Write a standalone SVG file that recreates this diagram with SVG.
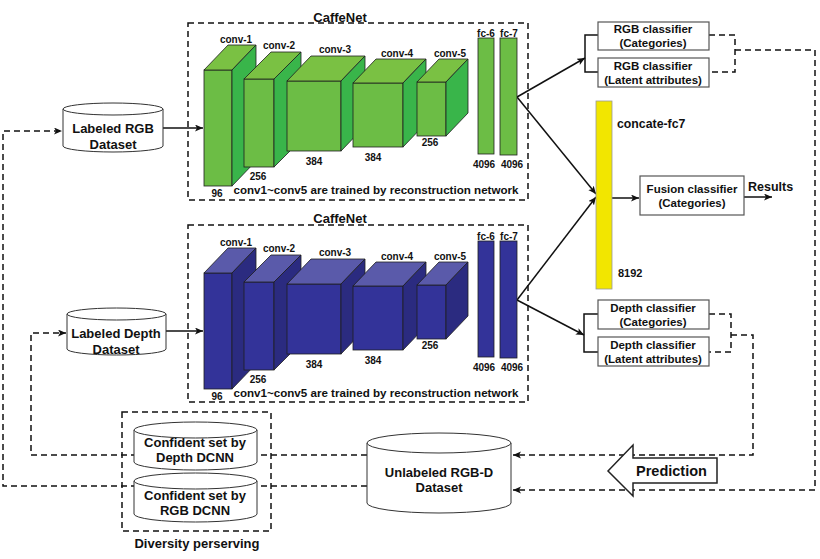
<svg xmlns="http://www.w3.org/2000/svg" width="820" height="559" viewBox="0 0 820 559">
<style>
text{font-family:"Liberation Sans",Arial,sans-serif;font-weight:bold;fill:#111;}
.c{text-anchor:middle;}
.t13{font-size:13px;}
.t10{font-size:10px;}
.t11{font-size:11.5px;}
.dash{fill:none;stroke:#111;stroke-width:1.5;stroke-dasharray:6 4;}
.solid{fill:none;stroke:#111;stroke-width:1.5;}
.gf{fill:#6CBD45;stroke:#1e1e1e;stroke-width:0.8;}
.gt{fill:#7AC143;stroke:#1e1e1e;stroke-width:0.8;}
.gs{fill:#39B54A;stroke:#1e1e1e;stroke-width:0.8;}
.bf{fill:#333399;stroke:#1e1e1e;stroke-width:0.8;}
.bt{fill:#5A5AAA;stroke:#1e1e1e;stroke-width:0.8;}
.bs{fill:#2B2B80;stroke:#1e1e1e;stroke-width:0.8;}
.cyl{fill:#fff;stroke:#333;stroke-width:1;}
.box{fill:#fff;stroke:#555;stroke-width:1.2;}
</style>
<defs>
<marker id="ah" markerWidth="9" markerHeight="8" refX="8" refY="3.5" orient="auto" markerUnits="userSpaceOnUse">
<path d="M0,0 L8,3.5 L0,7 L2,3.5 z" fill="#111"/>
</marker>
</defs>

<!-- connectors -->
<g id="connectors">
<line class="solid" x1="163" y1="128" x2="203" y2="128" marker-end="url(#ah)"/>
<line class="solid" x1="166" y1="331" x2="203" y2="331" marker-end="url(#ah)"/>
<line class="solid" x1="517" y1="97" x2="585" y2="58" marker-end="url(#ah)"/>
<line class="solid" x1="517" y1="97" x2="596" y2="194" marker-end="url(#ah)"/>
<line class="solid" x1="517" y1="300" x2="596" y2="197" marker-end="url(#ah)"/>
<line class="solid" x1="517" y1="300" x2="584" y2="335" marker-end="url(#ah)"/>
<path class="solid" d="M598,35 H585 V72 H598"/>
<path class="solid" d="M598,314 H584 V352 H598"/>
<line class="solid" x1="612" y1="198" x2="639" y2="198" marker-end="url(#ah)"/>
<line class="solid" x1="744" y1="197" x2="772" y2="197" marker-end="url(#ah)"/>
<path class="dash" d="M709,35 H735 V72 H709"/>
<path class="dash" d="M735,50 H815 V490 H513" marker-end="url(#ah)"/>
<path class="dash" d="M709,314 H731 V352 H709"/>
<path class="dash" d="M731,335 H753 V455 H513" marker-end="url(#ah)"/>
<path class="dash" d="M367,486 H3 V131 H62" marker-end="url(#ah)"/>
<path class="dash" d="M367,455 H31 V333 H66" marker-end="url(#ah)"/>
</g>

<!-- top CaffeNet -->
<g id="caffenet-rgb">
<rect class="dash" x="188" y="23" width="340" height="177"/>
<text class="c t13" x="340" y="21.5">CaffeNet</text>
<g id="rgb-conv1">
<rect class="gf" x="204" y="70" width="28" height="116"/>
<polygon class="gt" points="204,70 228,45 256,45 232,70"/>
<polygon class="gs" points="232,70 256,45 256,161 232,186"/>
</g>
<g id="rgb-conv2">
<rect class="gf" x="244" y="79" width="30" height="88"/>
<polygon class="gt" points="244,79 271,52 301,52 274,79"/>
<polygon class="gs" points="274,79 301,52 301,140 274,167"/>
</g>
<g id="rgb-conv3">
<rect class="gf" x="287" y="81" width="54" height="70"/>
<polygon class="gt" points="287,81 311,56 365,56 341,81"/>
<polygon class="gs" points="341,81 365,56 365,126 341,151"/>
</g>
<g id="rgb-conv4">
<rect class="gf" x="353" y="83" width="50" height="64"/>
<polygon class="gt" points="353,83 376,59 426,59 403,83"/>
<polygon class="gs" points="403,83 426,59 426,123 403,147"/>
</g>
<g id="rgb-conv5">
<rect class="gf" x="417" y="82" width="29" height="54"/>
<polygon class="gt" points="417,82 439,59 468,59 446,82"/>
<polygon class="gs" points="446,82 468,59 468,113 446,136"/>
</g>
<rect id="rgb-fc6" class="gf" x="478" y="38" width="16" height="116"/>
<rect id="rgb-fc7" class="gf" x="500" y="38" width="17" height="117"/>
<text class="c t10" x="236" y="42.5">conv-1</text>
<text class="c t10" x="279" y="48.5">conv-2</text>
<text class="c t10" x="335" y="52.5">conv-3</text>
<text class="c t10" x="397" y="56.5">conv-4</text>
<text class="c t10" x="450" y="56.5">conv-5</text>
<text class="c t10" x="486" y="36.5">fc-6</text>
<text class="c t10" x="509" y="36.5">fc-7</text>
<text class="c t10" x="217" y="196.5">96</text>
<text class="c t10" x="258" y="179.5">256</text>
<text class="c t10" x="314" y="164.5">384</text>
<text class="c t10" x="373" y="160.5">384</text>
<text class="c t10" x="430" y="145.5">256</text>
<text class="c t10" x="484" y="167.5">4096</text>
<text class="c t10" x="512" y="167.5">4096</text>
<text class="c" x="376" y="194" style="font-size:11.6px">conv1~conv5 are trained by reconstruction network</text>
</g>

<!-- bottom CaffeNet -->
<g id="caffenet-depth" transform="translate(0,203)">
<rect class="dash" x="188" y="22" width="340" height="177"/>
<text class="c t13" x="340" y="19.5">CaffeNet</text>
<g id="depth-conv1">
<rect class="bf" x="204" y="70" width="28" height="116"/>
<polygon class="bt" points="204,70 228,45 256,45 232,70"/>
<polygon class="bs" points="232,70 256,45 256,161 232,186"/>
</g>
<g id="depth-conv2">
<rect class="bf" x="244" y="79" width="30" height="88"/>
<polygon class="bt" points="244,79 271,52 301,52 274,79"/>
<polygon class="bs" points="274,79 301,52 301,140 274,167"/>
</g>
<g id="depth-conv3">
<rect class="bf" x="287" y="81" width="54" height="70"/>
<polygon class="bt" points="287,81 311,56 365,56 341,81"/>
<polygon class="bs" points="341,81 365,56 365,126 341,151"/>
</g>
<g id="depth-conv4">
<rect class="bf" x="353" y="83" width="50" height="64"/>
<polygon class="bt" points="353,83 376,59 426,59 403,83"/>
<polygon class="bs" points="403,83 426,59 426,123 403,147"/>
</g>
<g id="depth-conv5">
<rect class="bf" x="417" y="82" width="29" height="54"/>
<polygon class="bt" points="417,82 439,59 468,59 446,82"/>
<polygon class="bs" points="446,82 468,59 468,113 446,136"/>
</g>
<rect id="depth-fc6" class="bf" x="478" y="38" width="16" height="116"/>
<rect id="depth-fc7" class="bf" x="500" y="38" width="17" height="117"/>
<text class="c t10" x="236" y="42.5">conv-1</text>
<text class="c t10" x="279" y="48.5">conv-2</text>
<text class="c t10" x="335" y="52.5">conv-3</text>
<text class="c t10" x="397" y="56.5">conv-4</text>
<text class="c t10" x="450" y="56.5">conv-5</text>
<text class="c t10" x="486" y="36.5">fc-6</text>
<text class="c t10" x="509" y="36.5">fc-7</text>
<text class="c t10" x="217" y="196.5">96</text>
<text class="c t10" x="258" y="179.5">256</text>
<text class="c t10" x="314" y="164.5">384</text>
<text class="c t10" x="373" y="160.5">384</text>
<text class="c t10" x="430" y="145.5">256</text>
<text class="c t10" x="484" y="167.5">4096</text>
<text class="c t10" x="512" y="167.5">4096</text>
<text class="c" x="376" y="194" style="font-size:11.6px">conv1~conv5 are trained by reconstruction network</text>
</g>

<!-- datasets -->
<g id="labeled-rgb">
<path class="cyl" d="M63,109 A50,6 0 0 1 163,109 V146 A50,6 0 0 1 63,146 Z"/>
<path class="cyl" d="M63,109 A50,6 0 0 0 163,109"/>
<text class="c t13" x="113" y="132.5">Labeled RGB</text>
<text class="c t13" x="113" y="148.5">Dataset</text>
</g>
<g id="labeled-depth">
<path class="cyl" d="M67,314 A49.5,6 0 0 1 166,314 V349 A49.5,6 0 0 1 67,349 Z"/>
<path class="cyl" d="M67,314 A49.5,6 0 0 0 166,314"/>
<text class="c t13" x="116" y="337.5">Labeled Depth</text>
<text class="c t13" x="116" y="353.5">Dataset</text>
</g>
<g id="diversity">
<rect class="dash" x="122" y="412" width="149" height="119"/>
<text class="c t13" x="197" y="547.5">Diversity perserving</text>
</g>
<g id="confident-depth">
<path class="cyl" d="M134,430 A61.5,8 0 0 1 257,430 V462 A61.5,8 0 0 1 134,462 Z"/>
<path class="cyl" d="M134,430 A61.5,8 0 0 0 257,430"/>
<text class="c t13" x="195" y="446.5">Confident set by</text>
<text class="c t13" x="195" y="461.5">Depth DCNN</text>
</g>
<g id="confident-rgb">
<path class="cyl" d="M134,481 A61.5,8 0 0 1 257,481 V514 A61.5,8 0 0 1 134,514 Z"/>
<path class="cyl" d="M134,481 A61.5,8 0 0 0 257,481"/>
<text class="c t13" x="195" y="499.5">Confident set by</text>
<text class="c t13" x="195" y="514.5">RGB DCNN</text>
</g>
<g id="unlabeled">
<path class="cyl" d="M367,443 A72,10 0 0 1 511,443 V503 A72,10 0 0 1 367,503 Z"/>
<path class="cyl" d="M367,443 A72,10 0 0 0 511,443"/>
<text class="c t13" x="439" y="476.5">Unlabeled RGB-D</text>
<text class="c t13" x="439" y="491.5">Dataset</text>
</g>

<!-- classifiers -->
<g id="rgb-cls-cat">
<rect class="box" x="598" y="22" width="111" height="28"/>
<text class="c t11" x="653" y="33">RGB classifier</text>
<text class="c t11" x="653" y="47">(Categories)</text>
</g>
<g id="rgb-cls-latent">
<rect class="box" x="598" y="58" width="111" height="29"/>
<text class="c t11" x="653" y="70">RGB classifier</text>
<text class="c t11" x="653" y="84">(Latent attributes)</text>
</g>
<g id="depth-cls-cat">
<rect class="box" x="598" y="300" width="111" height="29"/>
<text class="c t11" x="653" y="312">Depth classifier</text>
<text class="c t11" x="653" y="326">(Categories)</text>
</g>
<g id="depth-cls-latent">
<rect class="box" x="598" y="337" width="111" height="29"/>
<text class="c t11" x="653" y="349">Depth classifier</text>
<text class="c t11" x="653" y="363">(Latent attributes)</text>
</g>
<g id="concat">
<rect x="596" y="101" width="16" height="188" fill="#F2E600" stroke="#999" stroke-width="0.8"/>
<text x="617" y="128" style="font-size:12.3px">concate-fc7</text>
<text x="618" y="276.5" style="font-size:11px">8192</text>
</g>
<g id="fusion">
<rect class="box" x="640" y="176" width="104" height="39"/>
<text class="c t11" x="692" y="193">Fusion classifier</text>
<text class="c t11" x="692" y="207">(Categories)</text>
</g>
<text id="results" x="748" y="190.5" style="font-size:12.5px">Results</text>
<g id="prediction">
<polygon points="608,471 633,445 633,458 717,458 717,483 633,483 633,496" fill="#fff" stroke="#222" stroke-width="1.5"/>
<text x="636" y="476" style="font-size:14.5px">Prediction</text>
</g>
</svg>
